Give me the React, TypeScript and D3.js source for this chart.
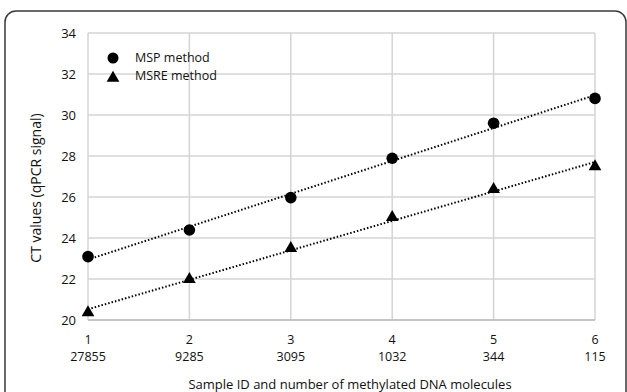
import React from "react";
import * as d3 from "d3";

const sampleIds = [1, 2, 3, 4, 5, 6];
const moleculeCounts = ["27855", "9285", "3095", "1032", "344", "115"];
const mspValues = [23.09, 24.39, 25.97, 27.89, 29.6, 30.81];
const msreValues = [20.36, 21.98, 23.5, 25.01, 26.37, 27.48];
const yTicks = [20, 22, 24, 26, 28, 30, 32, 34];

const W = 627;
const H = 392;
const FONT = "'Open Sans', 'Liberation Sans', sans-serif";

function fit(xs: number[], ys: number[]) {
  const mx = d3.mean(xs)!;
  const my = d3.mean(ys)!;
  let num = 0, den = 0;
  xs.forEach((x, i) => {
    num += (x - mx) * (ys[i] - my);
    den += (x - mx) * (x - mx);
  });
  const b = num / den;
  const a = my - b * mx;
  return (x: number) => a + b * x;
}

export default function App() {
  const x = d3.scaleLinear().domain([1, 6]).range([88, 595]);
  const y = d3.scaleLinear().domain([20, 34]).range([320, 33]);

  const mspFit = fit(sampleIds, mspValues);
  const msreFit = fit(sampleIds, msreValues);
  const line = d3.line<[number, number]>().x((d) => x(d[0])).y((d) => y(d[1]));
  const ext = d3.extent(sampleIds) as [number, number];

  const tri = d3.symbol().type(d3.symbolTriangle).size(70)()!;

  return (
    <svg
      width={W}
      height={H}
      style={{ position: "absolute", left: 0, top: 0, background: "#fff" }}
      fontFamily={FONT}
    >
      <rect x={5} y={11} width={621} height={400} rx={11} ry={11} fill="#fff" stroke="#3a3a3a" strokeWidth={1.5} />

      {/* gridlines */}
      {yTicks.map((t) => (
        <line key={"h" + t} x1={x(1)} x2={x(6)} y1={y(t)} y2={y(t)} stroke="#d4d4d4" strokeWidth={1.5} />
      ))}
      {sampleIds.map((s) => (
        <line key={"v" + s} x1={x(s)} x2={x(s)} y1={y(34)} y2={y(20)} stroke="#d4d4d4" strokeWidth={1.5} />
      ))}
      <line x1={x(1)} x2={x(6)} y1={y(20)} y2={y(20)} stroke="#bcbcbc" strokeWidth={1.5} />

      {/* y tick labels */}
      {yTicks.map((t) => (
        <text key={"yt" + t} x={76} y={y(t)} dy="0.35em" textAnchor="end" fontSize={13} fill="#111">
          {t}
        </text>
      ))}

      {/* x tick labels */}
      {sampleIds.map((s, i) => (
        <g key={"xt" + s}>
          <text x={x(s)} y={343.5} textAnchor="middle" fontSize={12.5} fill="#111">
            {s}
          </text>
          <text x={x(s)} y={360.5} textAnchor="middle" fontSize={12.5} fill="#111">
            {moleculeCounts[i]}
          </text>
        </g>
      ))}

      {/* trend lines */}
      <path
        d={line([[ext[0], mspFit(ext[0])], [ext[1], mspFit(ext[1])]])!}
        stroke="#000"
        strokeWidth={2}
        strokeDasharray="1.5 2"
        fill="none"
      />
      <path
        d={line([[ext[0], msreFit(ext[0])], [ext[1], msreFit(ext[1])]])!}
        stroke="#000"
        strokeWidth={2}
        strokeDasharray="1.5 2"
        fill="none"
      />

      {/* markers */}
      {sampleIds.map((s, i) => (
        <circle key={"c" + s} cx={x(s)} cy={y(mspValues[i])} r={5.8} fill="#000" />
      ))}
      {sampleIds.map((s, i) => (
        <path key={"t" + s} d={tri} transform={`translate(${x(s)},${y(msreValues[i])})`} fill="#000" />
      ))}

      {/* legend */}
      <circle cx={113} cy={58} r={5.5} fill="#000" />
      <text x={135} y={58} dy="0.35em" fontSize={12.5} fill="#111">MSP method</text>
      <path d={tri} transform="translate(113,78)" fill="#000" />
      <text x={135} y={76} dy="0.35em" fontSize={12.5} fill="#111">MSRE method</text>

      {/* axis titles */}
      <text
        transform={`translate(36,188) rotate(-90)`}
        textAnchor="middle"
        dy="0.35em"
        fontSize={14}
        fill="#111"
      >
        CT values (qPCR signal)
      </text>
      <text x={350} y={384} dy="0.35em" textAnchor="middle" fontSize={13} fill="#111">
        Sample ID and number of methylated DNA molecules
      </text>
    </svg>
  );
}
